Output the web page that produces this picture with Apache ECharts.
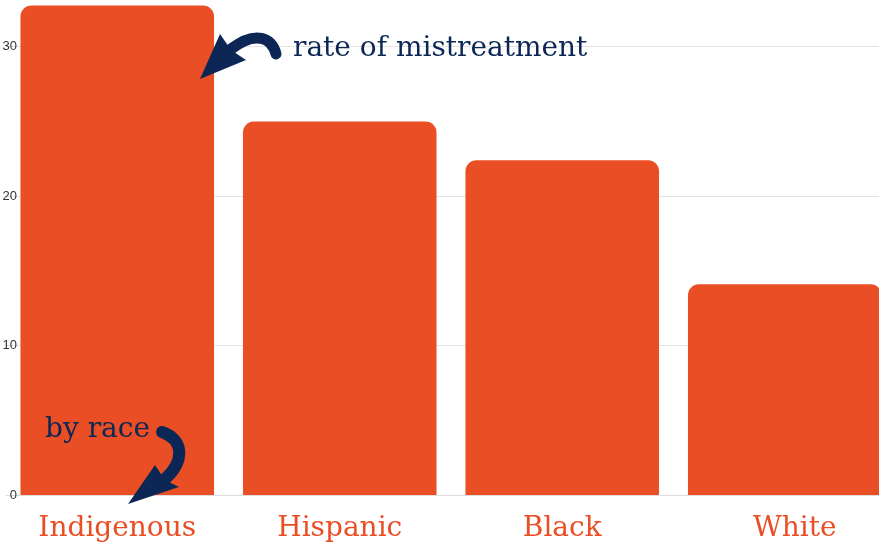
<!DOCTYPE html>
<html>
<head>
<meta charset="utf-8">
<script src="https://cdn.jsdelivr.net/npm/echarts@6/dist/echarts.min.js"></script>
<style>html,body{margin:0;padding:0;background:#fff}#c{width:879px;height:547px}</style>
</head>
<body>
<div id="c"></div>
<script>
const categories = ['Indigenous', 'Hispanic', 'Black', 'White'];
const rates = [32.75, 25.0, 22.4, 14.1];
const yTicks = [0, 10, 20, 30];

const ORANGE = '#EA4E24';
const NAVY = '#0c2756';

const chart = echarts.init(document.getElementById('c'));
chart.setOption({
  animation: false,
  backgroundColor: '#fff',
  grid: { left: 6, right: -17, top: -28, bottom: 52, containLabel: false, outerBoundsMode: 'none' },
  xAxis: {
    type: 'category',
    data: categories.map((c, i) => i === categories.length - 1
      ? { value: c, textStyle: { padding: [0, 0, 0, 20] } } : c),
    axisLine: { lineStyle: { color: '#dcdcdc', width: 1 } },
    axisTick: { show: false },
    axisLabel: { color: ORANGE, fontFamily: 'DejaVu Serif', fontSize: 28, margin: 20 }
  },
  yAxis: {
    type: 'value',
    min: yTicks[0],
    max: 35,
    interval: 10,
    axisLine: { show: false },
    axisTick: { show: false },
    splitLine: { lineStyle: { color: '#e3e3e3', width: 1 } },
    axisLabel: { color: '#333', fontSize: 13, margin: -11, showMaxLabel: false,
      formatter: v => yTicks.includes(v) ? String(v) : '' }
  },
  series: [{
    type: 'bar',
    data: rates,
    barCategoryGap: '13%',
    itemStyle: { color: ORANGE, borderRadius: [11, 11, 0, 0] }
  }],
  graphic: [
    { type: 'text', x: 293, y: 35, z: 100,
      style: { text: 'rate of mistreatment', fill: NAVY, font: '28px "DejaVu Serif"' } },
    { type: 'text', x: 45, y: 416, z: 100,
      style: { text: 'by race', fill: NAVY, font: '28px "DejaVu Serif"' } },
    { type: 'bezierCurve', z: 100,
      shape: { x1: 276, y1: 54, cpx1: 272, cpy1: 38, cpx2: 256, cpy2: 30, x2: 231, y2: 49 },
      style: { fill: null, stroke: NAVY, lineWidth: 11, lineCap: 'round' } },
    { type: 'polygon', z: 100,
      shape: { points: [[220, 34], [200, 79], [246, 60], [231, 50]] },
      style: { fill: NAVY } },
    { type: 'bezierCurve', z: 100,
      shape: { x1: 162, y1: 432, cpx1: 185, cpy1: 440, cpx2: 184, cpy2: 462, x2: 165, y2: 479 },
      style: { fill: null, stroke: NAVY, lineWidth: 12, lineCap: 'round' } },
    { type: 'polygon', z: 100,
      shape: { points: [[155, 465], [128, 504], [179, 487], [165, 480]] },
      style: { fill: NAVY } }
  ]
});
</script>
</body>
</html>
